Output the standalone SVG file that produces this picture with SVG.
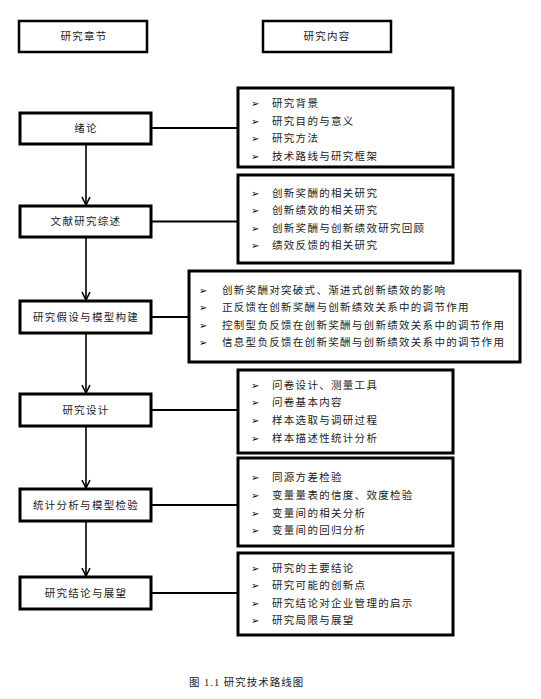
<svg xmlns="http://www.w3.org/2000/svg" width="541" height="699" viewBox="0 0 541 699">
<defs>
<style>
.box{fill:#fff;stroke:#000;stroke-width:3}
.hbox{fill:#fff;stroke:#000;stroke-width:2.5}
.t{font-family:"Liberation Serif","Noto Sans CJK SC",serif;font-size:10.5px;letter-spacing:1.3px;fill:#222;dominant-baseline:central}
.c{text-anchor:middle}
.b{font-family:"DejaVu Sans",sans-serif;font-size:10px;font-weight:bold;fill:#000;dominant-baseline:central}
.ln{stroke:#000;stroke-width:2;fill:none}
.vl{stroke:#000;stroke-width:1.6;fill:none}
</style>
<marker id="arr" markerWidth="10" markerHeight="10" refX="9" refY="5" orient="auto" markerUnits="userSpaceOnUse" viewBox="0 0 10 10">
<path d="M1,1 L9,5 L1,9" fill="none" stroke="#000" stroke-width="1.6"/>
</marker>
</defs>
<rect width="541" height="699" fill="#fff"/>

<g id="hdr-left"><rect class="hbox" x="19" y="21" width="128" height="31"/><text class="t c" x="84" y="36">研究章节</text></g>
<g id="hdr-right"><rect class="hbox" x="263" y="21" width="128" height="31"/><text class="t c" x="327" y="36">研究内容</text></g>

<g id="connectors">
<line class="ln" x1="152" y1="128" x2="238" y2="128"/>
<line class="ln" x1="152" y1="221.5" x2="238" y2="221.5"/>
<line class="ln" x1="152" y1="317" x2="189" y2="317"/>
<line class="ln" x1="152" y1="410" x2="238" y2="410"/>
<line class="ln" x1="152" y1="505" x2="238" y2="505"/>
<line class="ln" x1="152" y1="593" x2="238" y2="593"/>
<line class="vl" x1="86" y1="144" x2="86" y2="205" marker-end="url(#arr)"/>
<line class="vl" x1="86" y1="237" x2="86" y2="300" marker-end="url(#arr)"/>
<line class="vl" x1="86" y1="333" x2="86" y2="393" marker-end="url(#arr)"/>
<line class="vl" x1="86" y1="426" x2="86" y2="488" marker-end="url(#arr)"/>
<line class="vl" x1="86" y1="521" x2="86" y2="576" marker-end="url(#arr)"/>
</g>

<g id="n1"><rect class="box" x="20" y="113" width="131" height="31"/><text class="t c" x="86" y="128.5">绪论</text></g>
<g id="n2"><rect class="box" x="20" y="206" width="131" height="31"/><text class="t c" x="86" y="221.5">文献研究综述</text></g>
<g id="n3"><rect class="box" x="20" y="301" width="131" height="32"/><text class="t c" x="86" y="317">研究假设与模型构建</text></g>
<g id="n4"><rect class="box" x="20" y="394" width="131" height="32"/><text class="t c" x="86" y="410">研究设计</text></g>
<g id="n5"><rect class="box" x="20" y="489" width="131" height="32"/><text class="t c" x="86" y="505">统计分析与模型检验</text></g>
<g id="n6"><rect class="box" x="20" y="577" width="131" height="32"/><text class="t c" x="86" y="593">研究结论与展望</text></g>

<g id="r1"><rect class="box" x="238" y="88" width="215" height="79"/>
<text class="b" x="251" y="103">➢</text><text class="t" x="272" y="103">研究背景</text>
<text class="b" x="251" y="121">➢</text><text class="t" x="272" y="121">研究目的与意义</text>
<text class="b" x="251" y="138">➢</text><text class="t" x="272" y="138">研究方法</text>
<text class="b" x="251" y="156">➢</text><text class="t" x="272" y="156">技术路线与研究框架</text>
</g>
<g id="r2"><rect class="box" x="238" y="175" width="215" height="88"/>
<text class="b" x="251" y="193">➢</text><text class="t" x="272" y="193">创新奖酬的相关研究</text>
<text class="b" x="251" y="210">➢</text><text class="t" x="272" y="210">创新绩效的相关研究</text>
<text class="b" x="251" y="228">➢</text><text class="t" x="272" y="228">创新奖酬与创新绩效研究回顾</text>
<text class="b" x="251" y="245">➢</text><text class="t" x="272" y="245">绩效反馈的相关研究</text>
</g>
<g id="r3"><rect class="box" x="189" y="271" width="331" height="91"/>
<text class="b" x="199" y="290">➢</text><text class="t" x="222" y="290">创新奖酬对突破式、渐进式创新绩效的影响</text>
<text class="b" x="199" y="307">➢</text><text class="t" x="222" y="307">正反馈在创新奖酬与创新绩效关系中的调节作用</text>
<text class="b" x="199" y="325">➢</text><text class="t" x="222" y="325">控制型负反馈在创新奖酬与创新绩效关系中的调节作用</text>
<text class="b" x="199" y="342">➢</text><text class="t" x="222" y="342">信息型负反馈在创新奖酬与创新绩效关系中的调节作用</text>
</g>
<g id="r4"><rect class="box" x="238" y="370" width="215" height="83"/>
<text class="b" x="251" y="385">➢</text><text class="t" x="272" y="385">问卷设计、测量工具</text>
<text class="b" x="251" y="402">➢</text><text class="t" x="272" y="402">问卷基本内容</text>
<text class="b" x="251" y="420">➢</text><text class="t" x="272" y="420">样本选取与调研过程</text>
<text class="b" x="251" y="438">➢</text><text class="t" x="272" y="438">样本描述性统计分析</text>
</g>
<g id="r5"><rect class="box" x="238" y="458" width="215" height="88"/>
<text class="b" x="251" y="477">➢</text><text class="t" x="272" y="477">同源方差检验</text>
<text class="b" x="251" y="495">➢</text><text class="t" x="272" y="495">变量量表的信度、效度检验</text>
<text class="b" x="251" y="513">➢</text><text class="t" x="272" y="513">变量间的相关分析</text>
<text class="b" x="251" y="530">➢</text><text class="t" x="272" y="530">变量间的回归分析</text>
</g>
<g id="r6"><rect class="box" x="238" y="553" width="215" height="82"/>
<text class="b" x="251" y="568">➢</text><text class="t" x="272" y="568">研究的主要结论</text>
<text class="b" x="251" y="585">➢</text><text class="t" x="272" y="585">研究可能的创新点</text>
<text class="b" x="251" y="603">➢</text><text class="t" x="272" y="603">研究结论对企业管理的启示</text>
<text class="b" x="251" y="620">➢</text><text class="t" x="272" y="620">研究局限与展望</text>
</g>

<text class="t" x="189" y="682" style="letter-spacing:1px">图 1.1 研究技术路线图</text>
</svg>
